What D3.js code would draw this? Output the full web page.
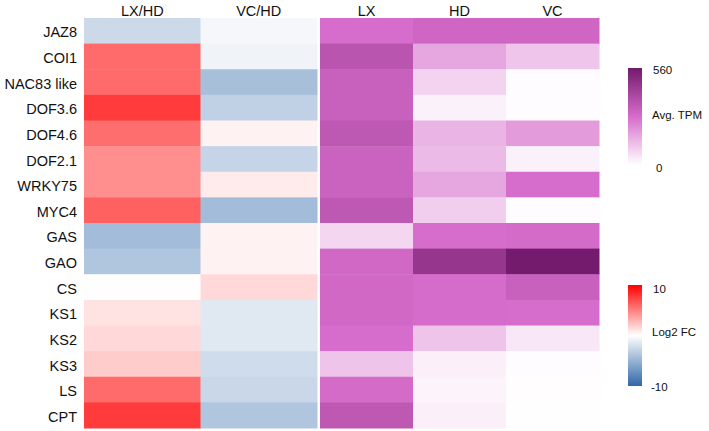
<!DOCTYPE html>
<html><head><meta charset="utf-8">
<script src="https://cdn.jsdelivr.net/npm/d3@7"></script>
<style>
html,body{margin:0;padding:0;background:#fff;}
svg{display:block;font-family:"Liberation Sans",Arial,sans-serif;}
.ax .domain{display:none;} .ax line{display:none;}
</style></head>
<body><svg id="chart" width="709" height="431"></svg>
<script>
const genes = ["JAZ8","COI1","NAC83 like","DOF3.6","DOF4.6","DOF2.1","WRKY75","MYC4","GAS","GAO","CS","KS1","KS2","KS3","LS","CPT"];
const fcColumns = ["LX/HD","VC/HD"];
const tpmColumns = ["LX","HD","VC"];
const log2fcLXHD = [-2.5, 5.8, 5.8, 7.7, 5.7, 4.4, 4.4, 6.2, -4.4, -3.8, 0.05, 1.1, 1.5, 2.0, 5.8, 7.7];
const log2fcVCHD = [-0.5, -0.7, -4.2, -3.0, 0.5, -2.8, 0.8, -4.4, 0.5, 0.5, 1.5, -1.5, -1.5, -2.3, -2.6, -3.8];
const tpmLX = [280, 362, 320, 320, 350, 315, 315, 350, 78, 295, 295, 295, 280, 112, 285, 350];
const tpmHD = [300, 168, 84, 27, 141, 131, 170, 93, 280, 460, 282, 282, 112, 29, 22, 30];
const tpmVC = [300, 110, 5, 5, 190, 27, 280, 5, 285, 555, 320, 280, 46, 5, 3, 2];
const tpmTicks = [0, 560];
const fcTicks = [-10, 10];
const tpmTitle = "Avg. TPM";
const fcTitle = "Log2 FC";

const svg = d3.select("#chart");
const y = d3.scaleBand().domain(genes).range([18, 428]);
const xFC = d3.scaleBand().domain(fcColumns).range([84, 317]);
const xTPM = d3.scaleBand().domain(tpmColumns).range([320, 599]);

const fcColor = d3.scaleLinear().domain([-10, 0, 10]).range(["#2F67A8", "#FFFFFF", "#FF0000"]).clamp(true);
const tpmColor = d3.scaleLinear().domain([0, 280, 560]).range(["#FFFFFF", "#D66CCB", "#731A6B"]).clamp(true);

const fcCells = [];
genes.forEach((g, i) => {
  fcCells.push({g, c: "LX/HD", v: log2fcLXHD[i]});
  fcCells.push({g, c: "VC/HD", v: log2fcVCHD[i]});
});
const tpmCells = [];
genes.forEach((g, i) => {
  tpmCells.push({g, c: "LX", v: tpmLX[i]});
  tpmCells.push({g, c: "HD", v: tpmHD[i]});
  tpmCells.push({g, c: "VC", v: tpmVC[i]});
});

svg.append("g").selectAll("rect").data(fcCells).join("rect")
  .attr("x", d => xFC(d.c)).attr("y", d => y(d.g))
  .attr("width", xFC.bandwidth() + 0.5).attr("height", y.bandwidth() + 0.5)
  .attr("fill", d => fcColor(d.v));
svg.append("g").selectAll("rect").data(tpmCells).join("rect")
  .attr("x", d => xTPM(d.c)).attr("y", d => y(d.g))
  .attr("width", xTPM.bandwidth() + 0.5).attr("height", y.bandwidth() + 0.5)
  .attr("fill", d => tpmColor(d.v));

// headers
svg.append("g").attr("class", "ax").attr("transform", "translate(0,16)")
  .call(d3.axisTop(xFC).tickSize(0).tickPadding(0));
svg.append("g").attr("class", "ax").attr("transform", "translate(0,16)")
  .call(d3.axisTop(xTPM).tickSize(0).tickPadding(0));
svg.selectAll(".ax text").attr("font-size", 14.5).attr("fill", "#111").attr("font-family", "Liberation Sans, Arial, sans-serif");

// row labels
const leftAx = svg.append("g").attr("class", "ax").attr("transform", "translate(77,2)")
  .call(d3.axisLeft(y).tickSize(0).tickPadding(0));
leftAx.selectAll("text").attr("font-size", 14.5).attr("fill", "#111").attr("font-family", "Liberation Sans, Arial, sans-serif");

// legends
const defs = svg.append("defs");
function legend(id, scale, domain, y0, y1, ticks, title, offs, titleBase) {
  const grad = defs.append("linearGradient").attr("id", id)
    .attr("x1", 0).attr("y1", 1).attr("x2", 0).attr("y2", 0);
  const n = 20;
  d3.range(n + 1).forEach(k => {
    const v = domain[0] + (domain[1] - domain[0]) * k / n;
    grad.append("stop").attr("offset", k / n).attr("stop-color", scale(v));
  });
  const ly = d3.scaleLinear().domain(domain).range([y1, y0]);
  svg.append("rect").attr("x", 628).attr("y", y0).attr("width", 14).attr("height", y1 - y0)
    .attr("fill", `url(#${id})`);
  svg.append("g").selectAll("text").data(ticks).join("text")
    .attr("x", (d, i) => offs[i][0]).attr("y", (d, i) => ly(d) + offs[i][1])
    .attr("font-size", 11.5).attr("fill", "#111")
    .text(d => d);
  svg.append("text").attr("x", 652).attr("y", titleBase)
    .attr("font-size", 11.5).attr("fill", "#111").text(title);
}
legend("gtpm", tpmColor, [0, 560], 68, 165, tpmTicks, tpmTitle, [[656, 7], [653, 5.5]], 119);
legend("gfc", fcColor, [-10, 10], 285, 386, fcTicks, fcTitle, [[651, 5], [653, 8]], 336);
</script></body></html>
